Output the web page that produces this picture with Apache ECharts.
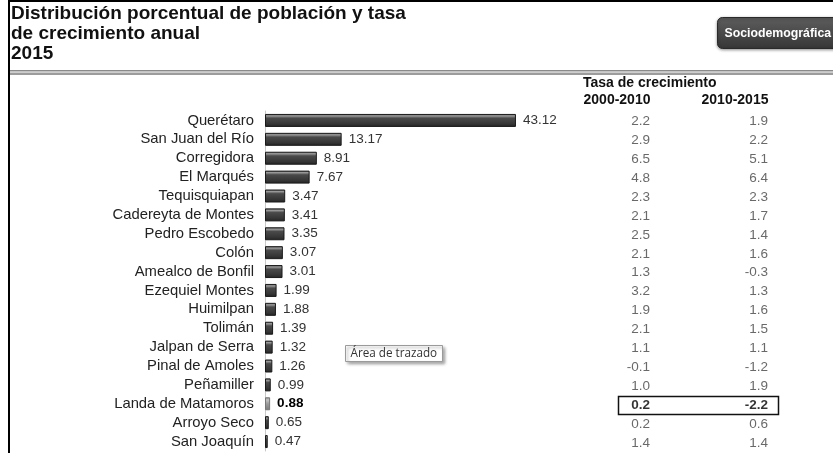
<!DOCTYPE html>
<html>
<head>
<meta charset="utf-8">
<script src="https://cdn.jsdelivr.net/npm/echarts@6/dist/echarts.min.js"></script>
<style>
  html, body { margin: 0; padding: 0; background: #fff; }
  #chart { width: 833px; height: 453px; }
</style>
</head>
<body>
<div id="chart"></div>
<script>
// Municipios de Querétaro, distribución porcentual de la población 2015
const municipios = ['Querétaro', 'San Juan del Río', 'Corregidora', 'El Marqués', 'Tequisquiapan',
  'Cadereyta de Montes', 'Pedro Escobedo', 'Colón', 'Amealco de Bonfil', 'Ezequiel Montes',
  'Huimilpan', 'Tolimán', 'Jalpan de Serra', 'Pinal de Amoles', 'Peñamiller',
  'Landa de Matamoros', 'Arroyo Seco', 'San Joaquín'];
const porcentaje = [43.12, 13.17, 8.91, 7.67, 3.47, 3.41, 3.35, 3.07, 3.01, 1.99,
  1.88, 1.39, 1.32, 1.26, 0.99, 0.88, 0.65, 0.47];
// Tasa de crecimiento media anual por periodo
const periodos = ['2000-2010', '2010-2015'];
const tasa2000_2010 = [2.2, 2.9, 6.5, 4.8, 2.3, 2.1, 2.5, 2.1, 1.3, 3.2, 1.9, 2.1, 1.1, -0.1, 1.0, 0.2, 0.2, 1.4];
const tasa2010_2015 = [1.9, 2.2, 5.1, 6.4, 2.3, 1.7, 1.4, 1.6, -0.3, 1.3, 1.6, 1.5, 1.1, -1.2, 1.9, -2.2, 0.6, 1.4];
const destacado = 'Landa de Matamoros';

const FONT = '"Liberation Sans", Arial, sans-serif';

const barGradient = new echarts.graphic.LinearGradient(0, 0, 0, 1, [
  { offset: 0, color: '#4a4a4a' },
  { offset: 0.15, color: '#9a9a9a' },
  { offset: 0.32, color: '#4a4a4a' },
  { offset: 0.75, color: '#363636' },
  { offset: 1, color: '#222' }
]);
const barGradientLight = new echarts.graphic.LinearGradient(0, 0, 0, 1, [
  { offset: 0, color: '#8a8a8a' },
  { offset: 0.2, color: '#c4c4c4' },
  { offset: 0.5, color: '#9a9a9a' },
  { offset: 1, color: '#7a7a7a' }
]);

const barData = porcentaje.map((v, i) => {
  const hi = municipios[i] === destacado;
  return {
    value: v,
    itemStyle: hi ? { color: barGradientLight, borderColor: '#777' } : undefined,
    label: hi ? { fontWeight: 'bold', color: '#000' } : undefined
  };
});

function tablaSerie(col, vals) {
  return {
    type: 'scatter',
    xAxisIndex: 1,
    yAxisIndex: 1,
    symbolSize: 0,
    silent: true,
    data: vals.map((v, i) => {
      const hi = municipios[i] === destacado;
      return {
        value: [periodos[col], municipios[i], v],
        label: hi ? { fontWeight: 'bold', color: '#000' } : undefined
      };
    }),
    label: {
      show: true,
      position: 'inside',
      align: 'right',
      offset: [33, 0],
      formatter: p => p.value[2].toFixed(1),
      fontFamily: FONT,
      fontSize: 13.5,
      color: '#444'
    }
  };
}

const chart = echarts.init(document.getElementById('chart'), null, { renderer: 'canvas' });

chart.setOption({
  animation: false,
  backgroundColor: '#fff',
  title: {
    text: 'Distribución porcentual de población y tasa\nde crecimiento anual\n2015',
    left: 11,
    top: 4,
    padding: 0,
    textStyle: { fontFamily: FONT, fontSize: 19, fontWeight: 'bold', color: '#111', lineHeight: 20 }
  },
  grid: [
    { left: 265, top: 111, width: 291, height: 340, containLabel: false },
    { left: 558, top: 111.5, width: 236, height: 346, containLabel: false }
  ],
  xAxis: [
    { type: 'value', gridIndex: 0, min: 0, max: 50, show: false },
    {
      type: 'category', gridIndex: 1, position: 'top', data: periodos,
      axisLine: { show: false }, axisTick: { show: false }, splitLine: { show: false },
      axisLabel: { margin: 4, fontFamily: FONT, fontSize: 14, fontWeight: 'bold', color: '#111' }
    }
  ],
  yAxis: [
    {
      type: 'category', gridIndex: 0, data: municipios, inverse: true,
      axisLine: { show: true, lineStyle: { color: '#c8c8c8', width: 1 } },
      axisTick: { show: false },
      axisLabel: { interval: 0, hideOverlap: false, margin: 11, fontFamily: FONT, fontSize: 14.8, color: '#222' }
    },
    { type: 'category', gridIndex: 1, data: municipios, inverse: true, show: false }
  ],
  series: [
    {
      type: 'bar',
      xAxisIndex: 0,
      yAxisIndex: 0,
      data: barData,
      barWidth: 13,
      itemStyle: { color: barGradient, borderColor: '#1a1a1a', borderWidth: 1 },
      label: {
        show: true, position: 'right', distance: 7,
        formatter: p => p.value.toFixed(2),
        fontFamily: FONT, fontSize: 13.5, color: '#333'
      }
    },
    tablaSerie(0, tasa2000_2010),
    tablaSerie(1, tasa2010_2015)
  ]
});

// Decorative frame, button, heading and highlighted row box
const yDest = chart.convertToPixel({ yAxisIndex: 1 }, destacado);

chart.setOption({
  graphic: [
    // left and top frame lines
    { type: 'rect', left: 8, top: 0, shape: { width: 2, height: 453 }, style: { fill: '#000' }, silent: true },
    { type: 'rect', left: 8, top: 0, shape: { width: 825, height: 2 }, style: { fill: '#000' }, silent: true },
    // double rule under the heading
    { type: 'rect', left: 10, top: 70, shape: { width: 823, height: 1.5 }, style: { fill: '#8a8a8a' }, silent: true },
    { type: 'rect', left: 10, top: 72.5, shape: { width: 823, height: 2.5 }, style: { fill: '#9c9c9c' }, silent: true },
    // section button
    {
      type: 'group', left: 717, top: 17, silent: true,
      children: [
        {
          type: 'rect', shape: { x: 0, y: 0, width: 130, height: 31, r: 5 },
          style: {
            fill: new echarts.graphic.LinearGradient(0, 0, 0, 1, [
              { offset: 0, color: '#5e5e5e' },
              { offset: 1, color: '#363636' }
            ]),
            stroke: '#2a2a2a', lineWidth: 1,
            shadowBlur: 3, shadowColor: 'rgba(0,0,0,0.4)', shadowOffsetY: 1
          }
        },
        {
          type: 'text', x: 7, y: 16,
          style: { text: 'Sociodemográfica', fill: '#fff', font: 'bold 12.3px ' + FONT, verticalAlign: 'middle' }
        }
      ]
    },
    // table heading
    {
      type: 'text', x: 583, y: 83, silent: true,
      style: { text: 'Tasa de crecimiento', fill: '#111', font: 'bold 14px ' + FONT, verticalAlign: 'middle' }
    },
    // box around highlighted row
    {
      type: 'rect', silent: true,
      shape: { x: 618.5, y: yDest - 9, width: 160, height: 18 },
      style: { fill: 'none', stroke: '#111', lineWidth: 1.5 }
    },
    // plot-area hint box
    {
      type: 'group', left: 345, top: 345, silent: true,
      children: [
        {
          type: 'rect', shape: { x: 0, y: 0, width: 97, height: 16 },
          style: { fill: '#fff', stroke: '#9a9a9a', lineWidth: 1, shadowBlur: 3, shadowOffsetX: 2, shadowOffsetY: 2, shadowColor: 'rgba(0,0,0,0.35)' }
        },
        {
          type: 'text', x: 5, y: 8.5,
          style: { text: 'Área de trazado', fill: '#333', font: '11.7px "Open Sans", sans-serif', verticalAlign: 'middle' }
        }
      ]
    }
  ]
});
</script>
</body>
</html>
